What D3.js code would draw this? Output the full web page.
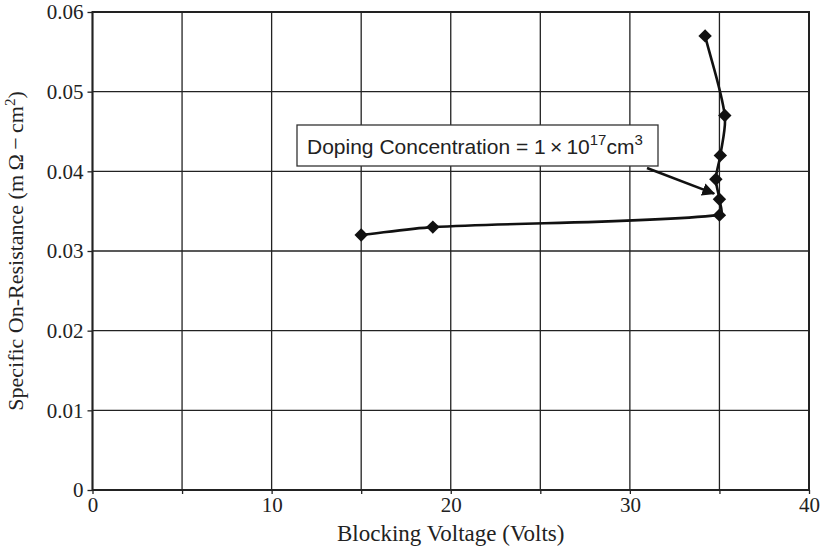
<!DOCTYPE html>
<html><head><meta charset="utf-8">
<script src="https://cdn.jsdelivr.net/npm/d3@7"></script>
<style>
html,body{margin:0;padding:0;background:#fff;}
svg{display:block;}
</style></head>
<body>
<svg id="chart" width="824" height="552"></svg>
<script>
// Data
const voltage = [15, 19, 35.0, 35.0, 34.8, 35.05, 35.3, 34.2];
const resistance = [0.032, 0.033, 0.0345, 0.0365, 0.039, 0.042, 0.047, 0.057];
const xTicks = [0, 10, 20, 30, 40];
const yTicks = [0, 0.01, 0.02, 0.03, 0.04, 0.05, 0.06];
const xGrid = [0, 5, 10, 15, 20, 25, 30, 35, 40];
const xLabel = "Blocking Voltage (Volts)";
const annotation = {label: "Doping Concentration = 1\u2009\u00d7\u200910", sup1: "17", mid: "cm", sup2: "3", ax: 34.7, ay: 0.0372};

const svg = d3.select("#chart");
const margin = {left: 92.5, right: 15, top: 12, bottom: 62};
const W = 824, H = 552;
const x = d3.scaleLinear().domain([0, 40]).range([margin.left, W - margin.right]);
const y = d3.scaleLinear().domain([0, 0.06]).range([H - margin.bottom, margin.top]);

const serif = "'Liberation Serif','Times New Roman',serif";
const sans = "'Liberation Sans',Arial,sans-serif";

// Smooth curve (spreadsheet-style): tangent along neighbours, handle length proportional to segment length
function SmoothCurve(context) { this._context = context; }
SmoothCurve.prototype = {
  areaStart() {}, areaEnd() {},
  lineStart() { this._pts = []; },
  point(px, py) { this._pts.push([+px, +py]); },
  lineEnd() {
    const p = this._pts, n = p.length, c = this._context, k = 0.3;
    if (!n) return;
    const unit = (a, b) => { const dx = b[0]-a[0], dy = b[1]-a[1], l = Math.hypot(dx, dy) || 1; return [dx/l, dy/l]; };
    const t = p.map((q, i) => unit(p[Math.max(0, i-1)], p[Math.min(n-1, i+1)]));
    c.moveTo(p[0][0], p[0][1]);
    for (let i = 0; i < n - 1; i++) {
      const L = Math.hypot(p[i+1][0]-p[i][0], p[i+1][1]-p[i][1]) * k;
      c.bezierCurveTo(p[i][0] + t[i][0]*L, p[i][1] + t[i][1]*L,
                      p[i+1][0] - t[i+1][0]*L, p[i+1][1] - t[i+1][1]*L,
                      p[i+1][0], p[i+1][1]);
    }
  }
};
const smoothCurve = ctx => new SmoothCurve(ctx);

// grid
const g = svg.append("g");
g.selectAll("line.vg").data(xGrid).join("line")
  .attr("x1", d => x(d)).attr("x2", d => x(d))
  .attr("y1", y(0)).attr("y2", y(0.06))
  .attr("stroke", "#222").attr("stroke-width", 1.3);
g.selectAll("line.hg").data(yTicks).join("line")
  .attr("y1", d => y(d)).attr("y2", d => y(d))
  .attr("x1", x(0)).attr("x2", x(40))
  .attr("stroke", "#222").attr("stroke-width", 1.3);

// axes
const xAxis = d3.axisBottom(x).tickValues(xGrid).tickSize(4).tickPadding(3)
  .tickFormat(d => xTicks.includes(d) ? d3.format("d")(d) : "");
const gx = svg.append("g").attr("transform", `translate(0,${y(0)})`).call(xAxis);
const yAxis = d3.axisLeft(y).tickValues(yTicks).tickSize(5).tickPadding(4)
  .tickFormat(d => d === 0 ? "0" : d3.format(".2f")(d));
const gy = svg.append("g").attr("transform", `translate(${x(0)},0)`).call(yAxis);
[gx, gy].forEach(a => {
  a.select(".domain").remove();
  a.selectAll(".tick line").attr("stroke", "#222").attr("stroke-width", 1.3);
  a.selectAll("text").attr("font-family", serif).attr("font-size", 21).attr("fill", "#222");
});

// plot border
svg.append("rect").attr("x", x(0)).attr("y", y(0.06))
  .attr("width", x(40) - x(0)).attr("height", y(0) - y(0.06))
  .attr("fill", "none").attr("stroke", "#222").attr("stroke-width", 2);

// axis labels
svg.append("text").attr("x", (x(0) + x(40)) / 2).attr("y", 541)
  .attr("text-anchor", "middle").attr("font-family", serif).attr("font-size", 23)
  .attr("fill", "#222").text(xLabel);
const yl = svg.append("text")
  .attr("transform", `translate(23,${(y(0) + y(0.06)) / 2}) rotate(-90)`)
  .attr("text-anchor", "middle").attr("font-family", serif).attr("font-size", 22)
  .attr("fill", "#222");
yl.append("tspan").text("Specific On-Resistance (m\u2009\u03a9\u2009\u2212\u2009cm");
yl.append("tspan").attr("dy", -8).attr("font-size", 15).text("2");
yl.append("tspan").attr("dy", 8).text(")");

// series
const pts = voltage.map((v, i) => [v, resistance[i]]);
svg.append("path").datum(pts)
  .attr("d", d3.line().x(d => x(d[0])).y(d => y(d[1])).curve(smoothCurve))
  .attr("fill", "none").attr("stroke", "#111").attr("stroke-width", 2.6);
svg.selectAll("path.mk").data(pts).join("path")
  .attr("d", d3.symbol(d3.symbolSquare, 90)())
  .attr("transform", d => `translate(${x(d[0])},${y(d[1])}) rotate(45)`)
  .attr("fill", "#111");

// annotation
const bx = 297, by = 125, bw = 361, bh = 41;
const ag = svg.append("g");
ag.append("rect").attr("x", bx).attr("y", by).attr("width", bw).attr("height", bh)
  .attr("fill", "#fff").attr("stroke", "#333").attr("stroke-width", 1.3);
const at = ag.append("text").attr("x", bx + 10).attr("y", by + 29)
  .attr("font-family", sans).attr("font-size", 21).attr("fill", "#222");
at.append("tspan").text(annotation.label);
at.append("tspan").attr("dy", -9).attr("font-size", 15).text(annotation.sup1);
at.append("tspan").attr("dy", 9).text(annotation.mid);
at.append("tspan").attr("dy", -9).attr("font-size", 15).text(annotation.sup2);

svg.append("defs").append("marker").attr("id", "ah")
  .attr("viewBox", "0 0 10 10").attr("refX", 9).attr("refY", 5)
  .attr("markerWidth", 5).attr("markerHeight", 5).attr("orient", "auto")
  .append("path").attr("d", "M0,0 L10,5 L0,10 z").attr("fill", "#111");
svg.append("line").attr("x1", bx + bw - 11).attr("y1", by + bh + 2)
  .attr("x2", x(annotation.ax)).attr("y2", y(annotation.ay))
  .attr("stroke", "#111").attr("stroke-width", 2.6).attr("marker-end", "url(#ah)");
</script>
</body></html>
